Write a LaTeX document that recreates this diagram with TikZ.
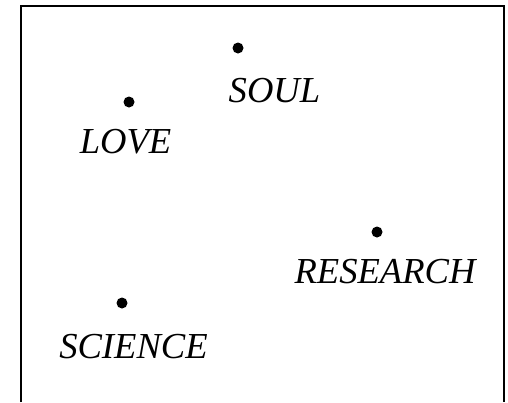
\documentclass[tikz,border=0pt]{standalone}
\usepackage{fontspec}
\setmainfont{Liberation Serif}
\usepackage{tikz}
\usetikzlibrary{positioning}

\begin{document}
\begin{tikzpicture}[
    x=0.5pt, y=-0.5pt,
    spot/.style={circle, fill=black, inner sep=0pt, minimum size=5.5pt},
    word/.style={anchor=base, inner sep=0pt, font=\fontsize{18.3}{20}\selectfont\itshape},
    frame/.style={draw=black, line width=1pt}
]
    \useasboundingbox (0,0) rectangle (508,402);
    \draw[frame] (21,402) -- (21,6) -- (504,6) -- (504,402);

    \node[spot] (soul) at (238,48) {};
    \node[spot] (love) at (129,102) {};
    \node[spot] (research) at (377,232) {};
    \node[spot] (science) at (122,303) {};

    \node[word] (soultext) at (274.5,102) {SOUL};
    \node[word] (lovetext) at (125.5,153) {LOVE};
    \node[word] (researchtext) at (385,283) {RESEARCH};
    \node[word] (sciencetext) at (133.5,358) {SCIENCE};
\end{tikzpicture}
\end{document}
